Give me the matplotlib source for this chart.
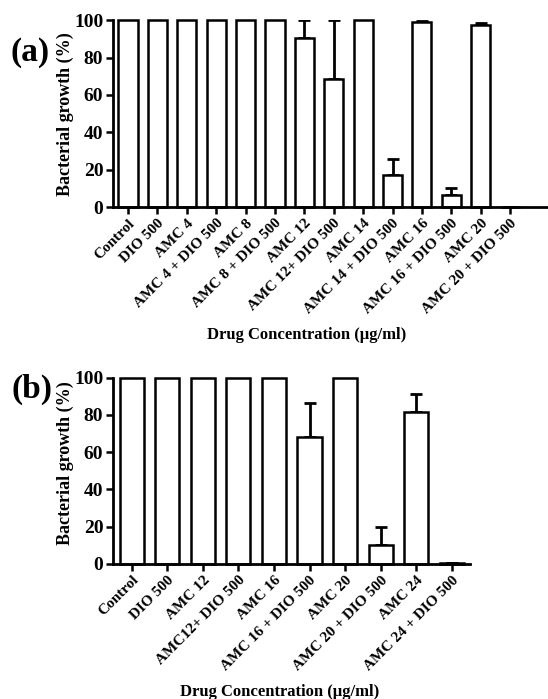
import numpy as np
import matplotlib
matplotlib.use('Agg')
import matplotlib.pyplot as plt

plt.rcParams['font.family'] = ['Liberation Serif', 'DejaVu Serif']
plt.rcParams['font.weight'] = 'bold'

# panel (a)
labels_a = ['Control', 'DIO 500', 'AMC 4', 'AMC 4 + DIO 500', 'AMC 8', 'AMC 8 + DIO 500',
            'AMC 12', 'AMC 12+ DIO 500', 'AMC 14', 'AMC 14 + DIO 500', 'AMC 16',
            'AMC 16 + DIO 500', 'AMC 20', 'AMC 20 + DIO 500']
growth_a = [100, 100, 100, 100, 100, 100, 90.7, 68.4, 100, 17.1, 98.9, 6.4, 97.5, 0]
err_a = [0, 0, 0, 0, 0, 0, 9.3, 31.6, 0.3, 8.6, 0.8, 3.9, 1.1, 0]

# panel (b)
labels_b = ['Control', 'DIO 500', 'AMC 12', 'AMC12+ DIO 500', 'AMC 16', 'AMC 16 + DIO 500',
            'AMC 20', 'AMC 20 + DIO 500', 'AMC 24', 'AMC 24 + DIO 500']
growth_b = [100, 100, 100, 100, 100, 68.3, 100, 10.0, 81.4, 0.5]
err_b = [0, 0, 0, 0, 0, 17.9, 0, 9.9, 9.8, 0]

W, H = 548, 699
fig = plt.figure(figsize=(W / 100, H / 100), dpi=100)


def px_axes(l, t, r, b):
    return fig.add_axes([l / W, 1 - b / H, (r - l) / W, (b - t) / H])


def draw(ax, labels, vals, errs, width, xlim):
    x = np.arange(len(labels))
    ax.bar(x, vals, width=width, color='white', edgecolor='black', linewidth=1.8,
           clip_on=False, zorder=2)
    ax.errorbar(x, vals, yerr=[np.zeros(len(errs)), errs], fmt='none', ecolor='black',
                elinewidth=2, capsize=4, capthick=2, zorder=1)
    ax.set_xlim(*xlim)
    ax.set_ylim(0, 100)
    ax.set_yticks([0, 20, 40, 60, 80, 100])
    ax.set_xticks(x)
    ax.set_xticklabels(labels, rotation=45, ha='right', rotation_mode='anchor',
                       fontsize=11, fontweight='bold')
    for t in ax.get_yticklabels():
        t.set_fontsize(14)
        t.set_fontweight('bold')
    for s in ['top', 'right']:
        ax.spines[s].set_visible(False)
    for s in ['left', 'bottom']:
        ax.spines[s].set_linewidth(2)
    ax.tick_params(axis='both', direction='out', length=5, width=1.8, pad=2)
    ax.set_ylabel('Bacterial growth (%)', fontsize=13, fontweight='bold')
    ax.set_xlabel('Drug Concentration (\u03bcg/ml)', fontsize=12, fontweight='bold')


ax1 = px_axes(113, 20.3, 548, 207)
draw(ax1, labels_a, growth_a, err_a, 0.65, (-0.51, 14.29))
ax1.xaxis.set_label_coords(0.444, -0.686)
ax1.yaxis.set_label_coords(-0.09, 0.5)

ax2 = px_axes(113, 377.7, 470, 563.7)
draw(ax2, labels_b, growth_b, err_b, 0.68, (-0.525, 9.51))
ax2.xaxis.set_label_coords(0.468, -0.69)
ax2.yaxis.set_label_coords(-0.109, 0.54)
for ax in (ax1, ax2):
    ax.xaxis.label.set_va('center')

fig.text(30 / W, 1 - 52 / H, '(a)', fontsize=24, fontweight='bold', ha='center', va='center')
fig.text(32 / W, 1 - 389 / H, '(b)', fontsize=24, fontweight='bold', ha='center', va='center')

fig.savefig('out.png', dpi=100, facecolor='white')
